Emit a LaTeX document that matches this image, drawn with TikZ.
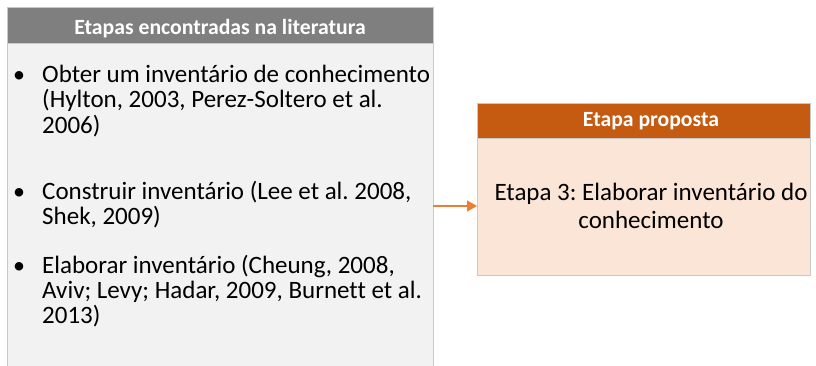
\documentclass[tikz,border=0pt]{standalone}
\usepackage{fontspec}
\setmainfont{Carlito}[Ligatures=NoCommon]
\frenchspacing
\usetikzlibrary{arrows.meta}
\definecolor{headgray}{HTML}{7F7F7F}
\definecolor{bodygray}{HTML}{F2F2F2}
\definecolor{bordgray}{HTML}{C3CAD5}
\definecolor{headorange}{HTML}{C55A11}
\definecolor{bodyorange}{HTML}{FBE5D6}
\definecolor{bordorange}{HTML}{C9C9C9}
\definecolor{arroworange}{HTML}{ED7D31}
\tikzset{
  boxpart/.style={rectangle, inner sep=0pt, outer sep=0pt, line width=1pt},
  headtext/.style={inner sep=0pt, anchor=base, text=white, font=\fontsize{21.7}{24}\selectfont\bfseries},
  bodyline/.style={inner sep=0pt, anchor=base west, font=\fontsize{25}{26}\selectfont},
  centerline/.style={inner sep=0pt, anchor=base, font=\fontsize{25}{26}\selectfont},
  bulletmark/.style={inner sep=0pt, anchor=base, font=\fontsize{24}{26}\selectfont},
  linkarrow/.style={draw=arroworange, line width=1.5pt, -{Triangle[length=10pt,width=11pt]}}
}
\begin{document}
\begin{tikzpicture}[x=1pt,y=-1pt]
\useasboundingbox (0,0) rectangle (816,365);
\begin{scope}
\clip (0,0) rectangle (816,365);
% left box
\node[boxpart, fill=bodygray, draw=bordgray, minimum width=426pt, minimum height=326pt] (litbody) at (220,206) {};
\node[boxpart, fill=headgray, draw=bordgray, minimum width=426pt, minimum height=35.5pt] (lithead) at (220,25.25) {};
\node[headtext] (lithtext) at (220,34) {Etapas encontradas na literatura};
% bullets and lines
\node[bulletmark] (b1) at (19,82) {•};
\node[bodyline] (l1a) at (42,82) {Obter um inventário de conhecimento};
\node[bodyline] (l1b) at (42,107.5) {(Hylton, 2003, Perez-Soltero et al.};
\node[bodyline] (l1c) at (42,133) {2006)};
\node[bulletmark] (b2) at (19,199) {•};
\node[bodyline] (l2a) at (42,199) {Construir inventário (Lee et al. 2008,};
\node[bodyline] (l2b) at (42,224.5) {Shek, 2009)};
\node[bulletmark] (b3) at (19,273) {•};
\node[bodyline] (l3a) at (42,273) {Elaborar inventário (Cheung, 2008,};
\node[bodyline] (l3b) at (42,298) {Aviv; Levy; Hadar, 2009, Burnett et al.};
\node[bodyline] (l3c) at (42,323) {2013)};
% right box
\node[boxpart, fill=bodyorange, draw=bordorange, minimum width=333pt, minimum height=137pt] (propbody) at (643.5,206.5) {};
\node[boxpart, fill=headorange, draw=bordorange, minimum width=333pt, minimum height=35pt] (prophead) at (643.5,120.5) {};
\node[headtext] (prophtext) at (651,126) {Etapa proposta};
\node[centerline] (p1) at (651,200) {Etapa 3: Elaborar inventário do};
\node[centerline] (p2) at (651,228) {conhecimento};
% connector
\draw[linkarrow] (litbody.east) -- (litbody.east -| propbody.west);
\end{scope}
\end{tikzpicture}
\end{document}
